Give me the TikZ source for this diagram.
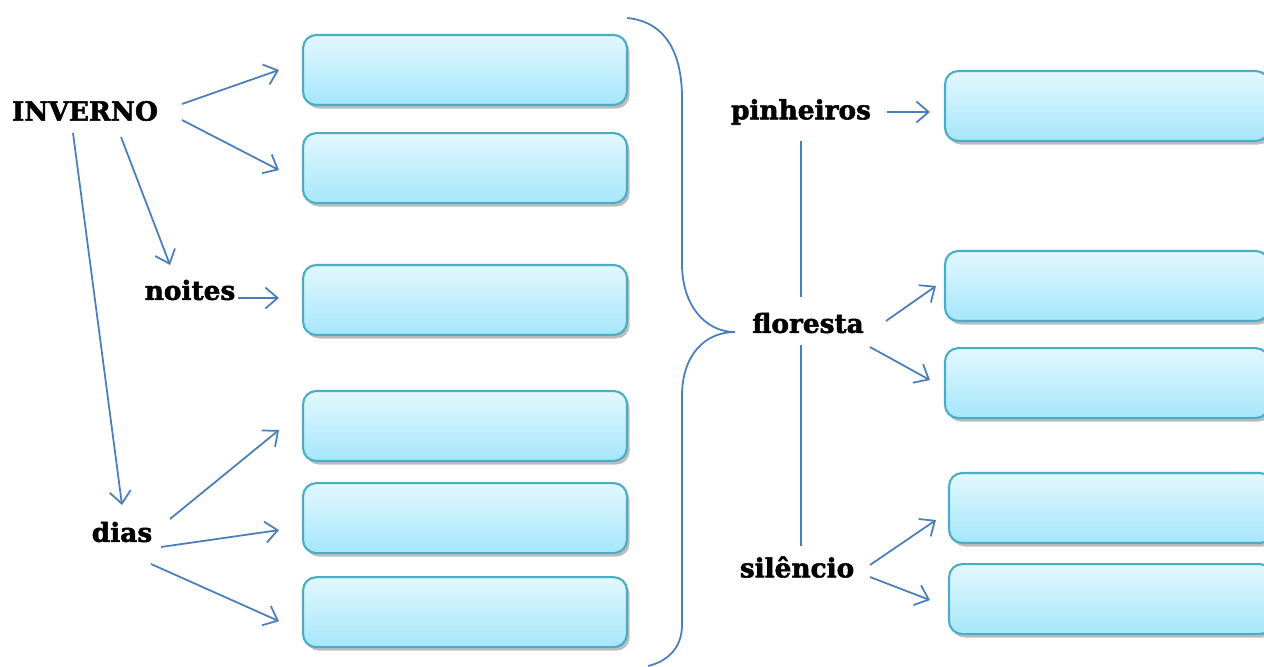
\documentclass[tikz,border=0pt]{standalone}
\usepackage{fontspec}
\setmainfont{DejaVu Serif}[BoldFeatures={FakeBold=2}]
\usetikzlibrary{positioning,arrows.meta,shadows}

\definecolor{linkblue}{HTML}{4A7EBB}
\definecolor{boxedge}{HTML}{4BACC6}
\definecolor{boxtop}{HTML}{E2F8FE}
\definecolor{boxbot}{HTML}{A5E6FA}

\tikzset{
  blank/.style={draw=boxedge, line width=1.2pt, rounded corners=7.5pt,
    minimum width=6.48cm, minimum height=1.4cm,
    top color=boxtop, bottom color=boxbot,
    drop shadow={shadow xshift=1.5pt, shadow yshift=-2pt, opacity=0.4, fill=black!65}},
  word/.style={font=\fontsize{15}{18}\selectfont\bfseries, inner sep=2pt},
  link/.style={draw=linkblue, line width=1pt, -{Straight Barb[length=7pt,width=12pt]}},
}

\begin{document}
\begin{tikzpicture}[x=0.02cm, y=0.02cm]
  \useasboundingbox (0,0) rectangle (1264,666);
  % Nodes
  \node[word] (inverno) at (85,555) {INVERNO} ; %
  \node[word] (noites) at (190,376) {noites} ; %
  \node[word] (dias) at (122,134) {dias} ; %
  \node[blank] (b1) at (465,596) {} ; %
  \node[blank, below=0.52cm of b1] (b2) {} ; %
  \node[blank] (b3) at (465,366) {} ; %
  \node[blank] (b4) at (465,240) {} ; %
  \node[blank, below=0.40cm of b4] (b5) {} ; %
  \node[blank, below=0.44cm of b5] (b6) {} ; %
  \node[word] (pinheiros) at (801,554) {pinheiros} ; %
  \node[word] (floresta) at (808,343) {floresta} ; %
  \node[word] (silencio) at (797,99) {silêncio} ; %
  \node[blank] (r1) at (1107,560) {} ; %
  \node[blank] (r2) at (1107,380) {} ; %
  \node[blank, below=0.50cm of r2] (r3) {} ; %
  \node[blank] (r4) at (1111,158) {} ; %
  \node[blank, below=0.38cm of r4] (r5) {} ; %
  % Edges
  \draw[link] ([shift={(97,7)}]inverno.center) -- ([shift={(-23,0)}]b1.west) ; %
  \draw[link] ([shift={(97,-9)}]inverno.center) -- ([shift={(-23,-2)}]b2.west) ; %
  \draw[link] ([shift={(36,-26)}]inverno.center) -- ([shift={(-20,25)}]noites.center) ; %
  \draw[link] ([shift={(-12,-22)}]inverno.center) -- ([shift={(0,27)}]dias.center) ; %
  \draw[link] ([shift={(48,-8)}]noites.center) -- ([shift={(-23,2)}]b3.west) ; %
  \draw[link] ([shift={(48,13)}]dias.center) -- ([shift={(-23,-4)}]b4.west) ; %
  \draw[link] ([shift={(39,-15)}]dias.center) -- ([shift={(-23,-12)}]b5.west) ; %
  \draw[link] ([shift={(29,-32)}]dias.center) -- ([shift={(-23,-9)}]b6.west) ; %
  \draw[link] ([shift={(86,0)}]pinheiros.center) -- ([shift={(-14,-6)}]r1.west) ; %
  \draw[link] ([shift={(78,2)}]floresta.center) -- ([shift={(-8,0)}]r2.west) ; %
  \draw[link] ([shift={(62,-24)}]floresta.center) -- ([shift={(-14,3)}]r3.west) ; %
  \draw[link] ([shift={(73,2)}]silencio.center) -- ([shift={(-12,-12)}]r4.west) ; %
  \draw[link] ([shift={(73,-10)}]silencio.center) -- ([shift={(-18,-1)}]r5.west) ; %
  \draw[linkblue, line width=1pt] ([shift={(0,-29)}]pinheiros.center) -- ([shift={(-7,26)}]floresta.center) ; %
  \draw[linkblue, line width=1pt] ([shift={(-7,-22)}]floresta.center) -- ([shift={(4,21)}]silencio.center) ; %
  % Brace
  \draw[linkblue, line width=1pt] (627,648) .. controls (670,644) and (682,606) .. (682,568)
    -- (682,402) .. controls (682,361) and (705,334) .. (735,334)
    .. controls (705,334) and (682,311) .. (682,270)
    -- (682,41) .. controls (682,16) and (665,4) .. (648,0) ; %
\end{tikzpicture}
\end{document}
